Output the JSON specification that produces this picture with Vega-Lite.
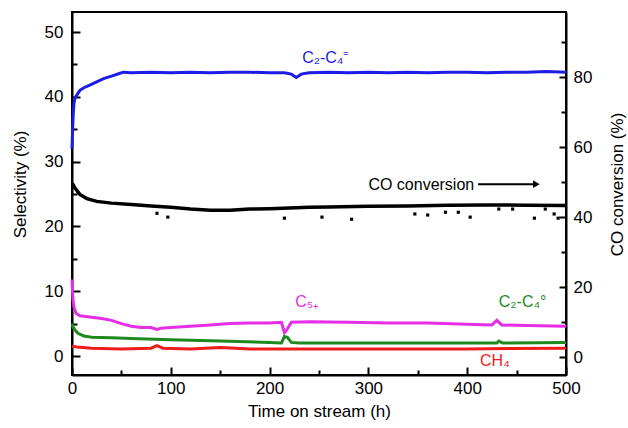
{
  "$schema": "https://vega.github.io/schema/vega-lite/v6.json",
  "width": 494,
  "height": 363,
  "autosize": {"type": "none"},
  "padding": {"left": 72, "top": 12, "right": 62, "bottom": 53},
  "background": "white",
  "config": {
    "view": {"stroke": "black", "strokeWidth": 2},
    "font": "Liberation Sans",
    "axis": {
      "domainColor": "black", "domainWidth": 2, "tickColor": "black", "tickWidth": 2,
      "labelColor": "black", "titleColor": "black", "labelFont": "Liberation Sans", "titleFont": "Liberation Sans",
      "labelFontSize": 17, "titleFontSize": 17, "titleFontWeight": "normal", "grid": false
    }
  },
  "datasets": {
    "sel": [
      {"s": "C2-C4=", "t": 0, "v": 32}, {"s": "C2-C4=", "t": 0.5, "v": 34.5}, {"s": "C2-C4=", "t": 1, "v": 36.5}, {"s": "C2-C4=", "t": 1.5, "v": 38}, {"s": "C2-C4=", "t": 2, "v": 39}, {"s": "C2-C4=", "t": 3, "v": 39.8}, {"s": "C2-C4=", "t": 5, "v": 40.3}, {"s": "C2-C4=", "t": 8, "v": 41}, {"s": "C2-C4=", "t": 12, "v": 41.4}, {"s": "C2-C4=", "t": 18, "v": 41.8}, {"s": "C2-C4=", "t": 25, "v": 42.3}, {"s": "C2-C4=", "t": 32, "v": 42.8}, {"s": "C2-C4=", "t": 40, "v": 43.2}, {"s": "C2-C4=", "t": 48, "v": 43.6}, {"s": "C2-C4=", "t": 52, "v": 43.8}, {"s": "C2-C4=", "t": 60, "v": 43.7}, {"s": "C2-C4=", "t": 80, "v": 43.8}, {"s": "C2-C4=", "t": 100, "v": 43.7}, {"s": "C2-C4=", "t": 120, "v": 43.8}, {"s": "C2-C4=", "t": 140, "v": 43.7}, {"s": "C2-C4=", "t": 160, "v": 43.8}, {"s": "C2-C4=", "t": 180, "v": 43.8}, {"s": "C2-C4=", "t": 200, "v": 43.7}, {"s": "C2-C4=", "t": 215, "v": 43.7}, {"s": "C2-C4=", "t": 222, "v": 43.5}, {"s": "C2-C4=", "t": 227, "v": 43.0}, {"s": "C2-C4=", "t": 232, "v": 43.5}, {"s": "C2-C4=", "t": 240, "v": 43.7}, {"s": "C2-C4=", "t": 260, "v": 43.8}, {"s": "C2-C4=", "t": 280, "v": 43.7}, {"s": "C2-C4=", "t": 300, "v": 43.8}, {"s": "C2-C4=", "t": 320, "v": 43.7}, {"s": "C2-C4=", "t": 340, "v": 43.8}, {"s": "C2-C4=", "t": 360, "v": 43.7}, {"s": "C2-C4=", "t": 380, "v": 43.8}, {"s": "C2-C4=", "t": 400, "v": 43.8}, {"s": "C2-C4=", "t": 420, "v": 43.7}, {"s": "C2-C4=", "t": 440, "v": 43.8}, {"s": "C2-C4=", "t": 460, "v": 43.8}, {"s": "C2-C4=", "t": 480, "v": 43.9}, {"s": "C2-C4=", "t": 500, "v": 43.8},

      {"s": "C5+", "t": 0, "v": 11.8}, {"s": "C5+", "t": 0.5, "v": 10}, {"s": "C5+", "t": 1, "v": 8.7}, {"s": "C5+", "t": 2, "v": 7.5}, {"s": "C5+", "t": 4, "v": 6.6}, {"s": "C5+", "t": 8, "v": 6.2}, {"s": "C5+", "t": 20, "v": 6.0}, {"s": "C5+", "t": 30, "v": 5.8}, {"s": "C5+", "t": 40, "v": 5.5}, {"s": "C5+", "t": 50, "v": 5.0}, {"s": "C5+", "t": 60, "v": 4.6}, {"s": "C5+", "t": 70, "v": 4.4}, {"s": "C5+", "t": 80, "v": 4.4}, {"s": "C5+", "t": 86, "v": 4.1}, {"s": "C5+", "t": 90, "v": 4.3}, {"s": "C5+", "t": 100, "v": 4.4}, {"s": "C5+", "t": 120, "v": 4.6}, {"s": "C5+", "t": 140, "v": 4.8}, {"s": "C5+", "t": 160, "v": 5.0}, {"s": "C5+", "t": 180, "v": 5.1}, {"s": "C5+", "t": 200, "v": 5.1}, {"s": "C5+", "t": 212, "v": 5.2}, {"s": "C5+", "t": 215, "v": 3.6}, {"s": "C5+", "t": 218, "v": 4.2}, {"s": "C5+", "t": 222, "v": 5.2}, {"s": "C5+", "t": 240, "v": 5.3}, {"s": "C5+", "t": 280, "v": 5.2}, {"s": "C5+", "t": 320, "v": 5.1}, {"s": "C5+", "t": 360, "v": 5.1}, {"s": "C5+", "t": 400, "v": 4.9}, {"s": "C5+", "t": 425, "v": 4.8}, {"s": "C5+", "t": 430, "v": 5.5}, {"s": "C5+", "t": 435, "v": 4.8}, {"s": "C5+", "t": 460, "v": 4.7}, {"s": "C5+", "t": 500, "v": 4.6},

      {"s": "C2-C4o", "t": 0, "v": 5.0}, {"s": "C2-C4o", "t": 1, "v": 4.5}, {"s": "C2-C4o", "t": 3, "v": 4.0}, {"s": "C2-C4o", "t": 6, "v": 3.5}, {"s": "C2-C4o", "t": 12, "v": 3.1}, {"s": "C2-C4o", "t": 20, "v": 2.9}, {"s": "C2-C4o", "t": 40, "v": 2.8}, {"s": "C2-C4o", "t": 60, "v": 2.7}, {"s": "C2-C4o", "t": 100, "v": 2.5}, {"s": "C2-C4o", "t": 150, "v": 2.3}, {"s": "C2-C4o", "t": 200, "v": 2.1}, {"s": "C2-C4o", "t": 212, "v": 2.0}, {"s": "C2-C4o", "t": 215, "v": 3.0}, {"s": "C2-C4o", "t": 218, "v": 2.9}, {"s": "C2-C4o", "t": 222, "v": 2.1}, {"s": "C2-C4o", "t": 230, "v": 2.0}, {"s": "C2-C4o", "t": 260, "v": 2.0}, {"s": "C2-C4o", "t": 300, "v": 2.0}, {"s": "C2-C4o", "t": 350, "v": 2.0}, {"s": "C2-C4o", "t": 400, "v": 2.0}, {"s": "C2-C4o", "t": 430, "v": 2.0}, {"s": "C2-C4o", "t": 432, "v": 2.3}, {"s": "C2-C4o", "t": 436, "v": 2.0}, {"s": "C2-C4o", "t": 500, "v": 2.1},

      {"s": "CH4", "t": 0, "v": 1.5}, {"s": "CH4", "t": 5, "v": 1.4}, {"s": "CH4", "t": 20, "v": 1.2}, {"s": "CH4", "t": 50, "v": 1.1}, {"s": "CH4", "t": 80, "v": 1.2}, {"s": "CH4", "t": 86, "v": 1.6}, {"s": "CH4", "t": 92, "v": 1.2}, {"s": "CH4", "t": 120, "v": 1.1}, {"s": "CH4", "t": 150, "v": 1.3}, {"s": "CH4", "t": 180, "v": 1.1}, {"s": "CH4", "t": 250, "v": 1.1}, {"s": "CH4", "t": 300, "v": 1.1}, {"s": "CH4", "t": 400, "v": 1.1}, {"s": "CH4", "t": 500, "v": 1.2}
    ],
    "selLabels": [
      {"s": "C2-C4=", "t": 233, "v": 45.2, "label": "C₂-C₄⁼"},
      {"s": "C5+", "t": 226, "v": 7.6, "label": "C₅₊"},
      {"s": "C2-C4o", "t": 432, "v": 7.6, "label": "C₂-C₄°"},
      {"s": "CH4", "t": 413, "v": -1.5, "label": "CH₄"}
    ],
    "conv": [
      {"t": 0, "v": 49.5}, {"t": 1, "v": 49.3}, {"t": 3, "v": 48.3}, {"t": 8, "v": 46.5}, {"t": 15, "v": 45.3}, {"t": 25, "v": 44.5}, {"t": 40, "v": 44.0}, {"t": 60, "v": 43.6}, {"t": 80, "v": 43.2}, {"t": 100, "v": 42.8}, {"t": 120, "v": 42.3}, {"t": 140, "v": 42.0}, {"t": 160, "v": 42.0}, {"t": 180, "v": 42.3}, {"t": 200, "v": 42.4}, {"t": 220, "v": 42.6}, {"t": 240, "v": 42.8}, {"t": 260, "v": 42.9}, {"t": 300, "v": 43.1}, {"t": 340, "v": 43.2}, {"t": 380, "v": 43.4}, {"t": 420, "v": 43.5}, {"t": 460, "v": 43.4}, {"t": 500, "v": 43.3}
    ],
    "dots": [
      {"t": 86, "v": 41.1}, {"t": 97, "v": 40.0}, {"t": 215, "v": 39.7}, {"t": 253, "v": 40.0}, {"t": 283, "v": 39.4}, {"t": 347, "v": 40.9}, {"t": 360, "v": 40.6}, {"t": 378, "v": 41.4}, {"t": 391, "v": 41.4}, {"t": 403, "v": 40.0}, {"t": 432, "v": 42.3}, {"t": 446, "v": 42.3}, {"t": 468, "v": 39.7}, {"t": 479, "v": 42.3}, {"t": 488, "v": 40.9}, {"t": 492, "v": 39.7}
    ],
    "convLabel": [{"t": 300, "v": 47.7, "label": "CO conversion"}],
    "arrow": [{"t": 411, "t2": 468, "v": 49.4}],
    "arrowHead": [{"t": 470, "v": 49.4}]
  },
  "layer": [
    {
      "layer": [
        {
          "data": {"name": "sel"},
          "mark": {"type": "line", "strokeWidth": 3},
          "encoding": {
            "x": {"field": "t", "type": "quantitative", "scale": {"domain": [0, 500], "nice": false, "zero": false},
              "axis": {"orient": "bottom", "values": [0, 100, 200, 300, 400, 500], "tickSize": -8, "labelPadding": 13, "title": "Time on stream (h)", "titleY": 36, "titleBaseline": "middle", "labelFlush": false}},
            "y": {"field": "v", "type": "quantitative", "scale": {"domain": [-2.93, 53.09], "nice": false, "zero": false},
              "axis": {"orient": "left", "values": [0, 10, 20, 30, 40, 50], "tickSize": -8, "labelPadding": 17, "title": "Selectivity (%)", "titleX": -52, "titleY": 172, "titleBaseline": "middle", "titleAngle": 270}},
            "color": {"field": "s", "type": "nominal", "scale": {"domain": ["C2-C4=", "C5+", "C2-C4o", "CH4"], "range": ["#1c1ce6", "#e62ee6", "#1e8a1e", "#f01c1c"]}, "legend": null}
          }
        },
        {
          "data": {"name": "selLabels"},
          "mark": {"type": "text", "align": "left", "baseline": "alphabetic", "fontSize": 16, "font": "Liberation Sans"},
          "encoding": {
            "x": {"field": "t", "type": "quantitative",
              "axis": {"orient": "bottom", "values": [50, 150, 250, 350, 450], "tickSize": -5, "labels": false, "domain": false, "title": null}},
            "y": {"field": "v", "type": "quantitative",
              "axis": {"orient": "left", "values": [5, 15, 25, 35, 45], "tickSize": -5, "labels": false, "domain": false, "title": null}},
            "text": {"field": "label"},
            "color": {"field": "s", "type": "nominal", "legend": null}
          }
        }
      ],
      "resolve": {"axis": {"x": "independent", "y": "independent"}}
    },
    {
      "layer": [
        {
          "data": {"name": "conv"},
          "mark": {"type": "line", "strokeWidth": 3.5, "color": "black"},
          "encoding": {
            "x": {"field": "t", "type": "quantitative", "axis": null},
            "y": {"field": "v", "type": "quantitative", "scale": {"domain": [-5.1, 98.6], "nice": false, "zero": false},
              "axis": {"orient": "right", "values": [0, 20, 40, 60, 80], "tickSize": -7, "labelPadding": 14, "title": "CO conversion (%)", "titleX": 51, "titleY": 172, "titleBaseline": "middle", "titleAngle": 270}}
          }
        },
        {
          "data": {"name": "dots"},
          "mark": {"type": "point", "shape": "square", "filled": true, "size": 10, "color": "black", "opacity": 1},
          "encoding": {
            "x": {"field": "t", "type": "quantitative", "axis": null},
            "y": {"field": "v", "type": "quantitative",
              "axis": {"orient": "right", "values": [10, 30, 50, 70, 90], "tickSize": -5, "labels": false, "domain": false, "title": null}}
          }
        },
        {
          "data": {"name": "convLabel"},
          "mark": {"type": "text", "align": "left", "baseline": "alphabetic", "fontSize": 16, "color": "black", "font": "Liberation Sans"},
          "encoding": {
            "x": {"field": "t", "type": "quantitative", "axis": null},
            "y": {"field": "v", "type": "quantitative", "axis": null},
            "text": {"field": "label"}
          }
        },
        {
          "data": {"name": "arrow"},
          "mark": {"type": "rule", "strokeWidth": 2, "color": "black"},
          "encoding": {
            "x": {"field": "t", "type": "quantitative", "axis": null},
            "x2": {"field": "t2"},
            "y": {"field": "v", "type": "quantitative", "axis": null}
          }
        },
        {
          "data": {"name": "arrowHead"},
          "mark": {"type": "point", "shape": "triangle-right", "filled": true, "size": 60, "color": "black", "opacity": 1},
          "encoding": {
            "x": {"field": "t", "type": "quantitative", "axis": null},
            "y": {"field": "v", "type": "quantitative", "axis": null}
          }
        }
      ],
      "resolve": {"axis": {"y": "independent"}}
    }
  ],
  "resolve": {"scale": {"y": "independent"}}
}
